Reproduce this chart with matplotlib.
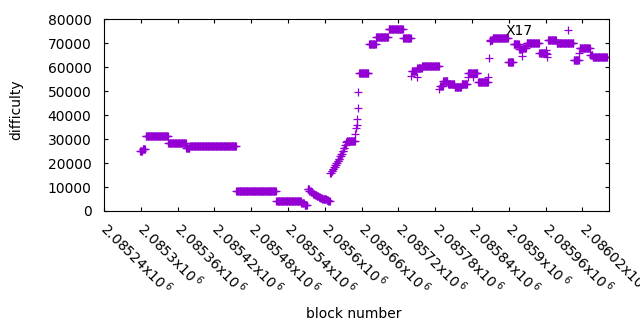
import matplotlib
matplotlib.use("Agg")
import matplotlib.pyplot as plt
from matplotlib.transforms import ScaledTranslation
import numpy as np

plt.rcParams['font.family'] = ['DejaVu Sans']
plt.rcParams['font.size'] = 10

# Run-length data: first block, last block, difficulty
run_start = [2085299, 2085303, 2085308, 2085345, 2085374, 2085380,
             2085456, 2085521, 2085562, 2085567,
             2085572, 2085575, 2085578, 2085581, 2085584, 2085587, 2085590,
             2085593, 2085596, 2085599, 2085603, 2085606,
             2085609, 2085611, 2085613, 2085615, 2085617, 2085619, 2085621,
             2085623, 2085625, 2085627, 2085629, 2085631, 2085633, 2085635,
             2085636, 2085650, 2085651, 2085652, 2085653, 2085654, 2085655,
             2085656, 2085672, 2085684, 2085704, 2085728,
             2085741, 2085742, 2085750, 2085751, 2085759,
             2085787, 2085788, 2085793, 2085801, 2085812, 2085823, 2085833,
             2085834, 2085841, 2085842, 2085850, 2085867, 2085868, 2085869,
             2085870, 2085874, 2085899, 2085908, 2085917, 2085922, 2085923,
             2085929, 2085950, 2085961, 2085962, 2085963, 2085964,
             2085978, 2086006, 2086015, 2086016, 2086033, 2086037]
run_end = [2085302, 2085307, 2085344, 2085373, 2085379, 2085455,
           2085520, 2085561, 2085566, 2085571,
           2085574, 2085577, 2085580, 2085583, 2085586, 2085589, 2085592,
           2085595, 2085598, 2085602, 2085605, 2085608,
           2085610, 2085612, 2085614, 2085616, 2085618, 2085620, 2085622,
           2085624, 2085626, 2085628, 2085630, 2085632, 2085634, 2085635,
           2085649, 2085650, 2085651, 2085652, 2085653, 2085654, 2085655,
           2085671, 2085683, 2085703, 2085727, 2085740,
           2085741, 2085749, 2085750, 2085758, 2085786,
           2085787, 2085792, 2085800, 2085811, 2085822, 2085832, 2085833,
           2085840, 2085841, 2085849, 2085866, 2085867, 2085868, 2085869,
           2085873, 2085898, 2085907, 2085916, 2085921, 2085922, 2085928,
           2085949, 2085960, 2085961, 2085962, 2085963, 2085977,
           2086005, 2086014, 2086015, 2086032, 2086036, 2086060]
run_value = [25200, 25800, 31500, 28400, 26100, 27250,
             8400, 4300, 3300, 2500,
             9000, 8500, 7900, 7300, 6800, 6300, 5900,
             5500, 5100, 4800, 4400, 4100,
             16000, 16800, 17600, 18400, 19200, 20000, 20900,
             21800, 22800, 23900, 25000, 26300, 27600, 28600,
             29400, 32000, 34800, 35800, 38500, 43000, 49500,
             57400, 69500, 72700, 76100, 72400,
             56400, 58600, 56000, 59500, 60400,
             50800, 52300, 54200, 53200, 51900, 53200, 55800,
             57700, 56000, 57700, 53800, 56000, 63700, 70800,
             71200, 72100, 62200, 69800, 67800, 64800, 67900,
             70300, 66000, 67000, 64300, 65400, 71200,
             70300, 63200, 65800, 67900, 65000, 64200]

series_label = "X17"
x_ticks = [2085240, 2085300, 2085360, 2085420, 2085480, 2085540, 2085600,
           2085660, 2085720, 2085780, 2085840, 2085900, 2085960, 2086020]
y_ticks = [0, 10000, 20000, 30000, 40000, 50000, 60000, 70000, 80000]

blocks = []
values = []
for s, e, v in zip(run_start, run_end, run_value):
    for b in range(s, e + 1):
        blocks.append(b)
        values.append(v)

fig = plt.figure(figsize=(6.4, 3.3), dpi=100)
ax = fig.add_axes([104 / 640, 1 - 211 / 330, (609.3 - 104) / 640, (211 - 19.3) / 330])

color = '#9400D3'
ax.plot(blocks, values, linestyle='none', marker='+', markersize=5.2,
        markeredgewidth=0.9, color=color, label=series_label)

ax.set_xlim(2085240, 2086064)
ax.set_ylim(0, 80000)
ax.set_yticks(y_ticks)
ax.set_yticklabels([str(v) for v in y_ticks])
ax.set_xticks(x_ticks)
ax.set_xticklabels([f"{v / 1e6:g}x10$\\,^{{6}}$" for v in x_ticks],
                   rotation=-45, ha='left', va='center', rotation_mode='anchor')

for lab in ax.get_xticklabels():
    lab.set_transform(lab.get_transform() + ScaledTranslation(6 / 100, 0, fig.dpi_scale_trans))

ax.tick_params(axis='both', direction='in', length=3.2, width=0.8,
               top=True, right=True, labelsize=10)
ax.tick_params(axis='y', pad=9)
ax.tick_params(axis='x', pad=10.5)
for sp in ax.spines.values():
    sp.set_linewidth(0.8)

ax.set_ylabel('difficulty', fontsize=10)
ax.yaxis.set_label_coords(-0.159, 0.527)
ax.set_xlabel('block number', fontsize=10)
ax.xaxis.set_label_coords(0.494, -0.50)

leg = ax.legend(loc='center right', bbox_to_anchor=(592 / 640, 1 - 31 / 330),
                bbox_transform=fig.transFigure, frameon=False, markerfirst=False,
                numpoints=1, handlelength=3.5, handletextpad=0.8,
                borderpad=0, borderaxespad=0, fontsize=10)

fig.savefig('out.png', dpi=100)
